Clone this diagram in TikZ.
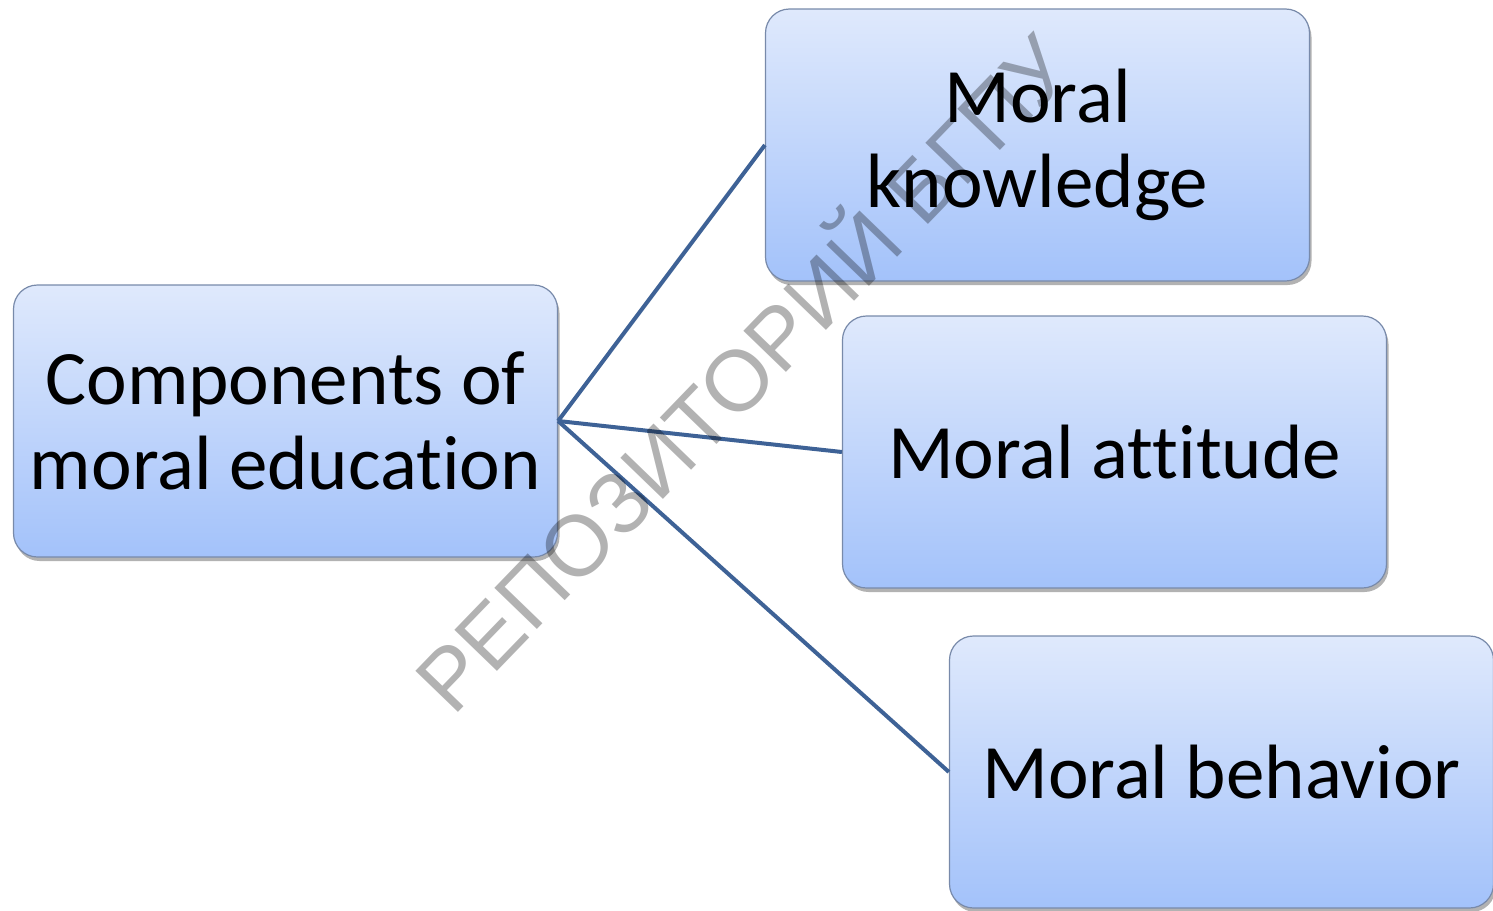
\documentclass[tikz,border=0pt]{standalone}
\usepackage{fontspec}
\setmainfont{Carlito}[Ligatures=NoCommon]
\newfontfamily\wmfont{Liberation Sans}
\usetikzlibrary{shadows}
\definecolor{boxtop}{RGB}{223,233,252}
\definecolor{boxbot}{RGB}{163,194,250}
\definecolor{boxline}{RGB}{120,138,170}
\definecolor{conn}{RGB}{62,98,150}
\tikzset{
  compbox/.style={rectangle, rounded corners=24pt, minimum width=544pt, minimum height=272pt,
    inner sep=0pt, top color=boxtop, bottom color=boxbot, draw=boxline, line width=1.2pt,
    align=center, font=\fontsize{77}{85}\selectfont,
    drop shadow={shadow xshift=2pt, shadow yshift=-4pt, opacity=0.3, fill=black}},
  connline/.style={draw=conn, line width=4pt},
  wmark/.style={font=\wmfont\fontsize{86}{90}\selectfont, text=black, text opacity=0.3, inner sep=0pt}
}
\begin{document}
\begin{tikzpicture}[x=1pt,y=-1pt]
\useasboundingbox (0,0) rectangle (1493,910);
\node[compbox] (L) at (285.5,421) {Components of\\moral education};
\node[compbox] (K) at (1037.5,145) {Moral\\knowledge};
\node[compbox] (A) at (1114.5,452) {Moral attitude};
\node[compbox] (B) at (1221.5,772) {Moral behavior};
\draw[connline] (L.east) -- (K.west);
\draw[connline] (L.east) -- (A.west);
\draw[connline] (L.east) -- (B.west);
\node[wmark, rotate=46] (W) at (737,368) {РЕПОЗИТОРИЙ БГПУ};
\end{tikzpicture}
\end{document}
